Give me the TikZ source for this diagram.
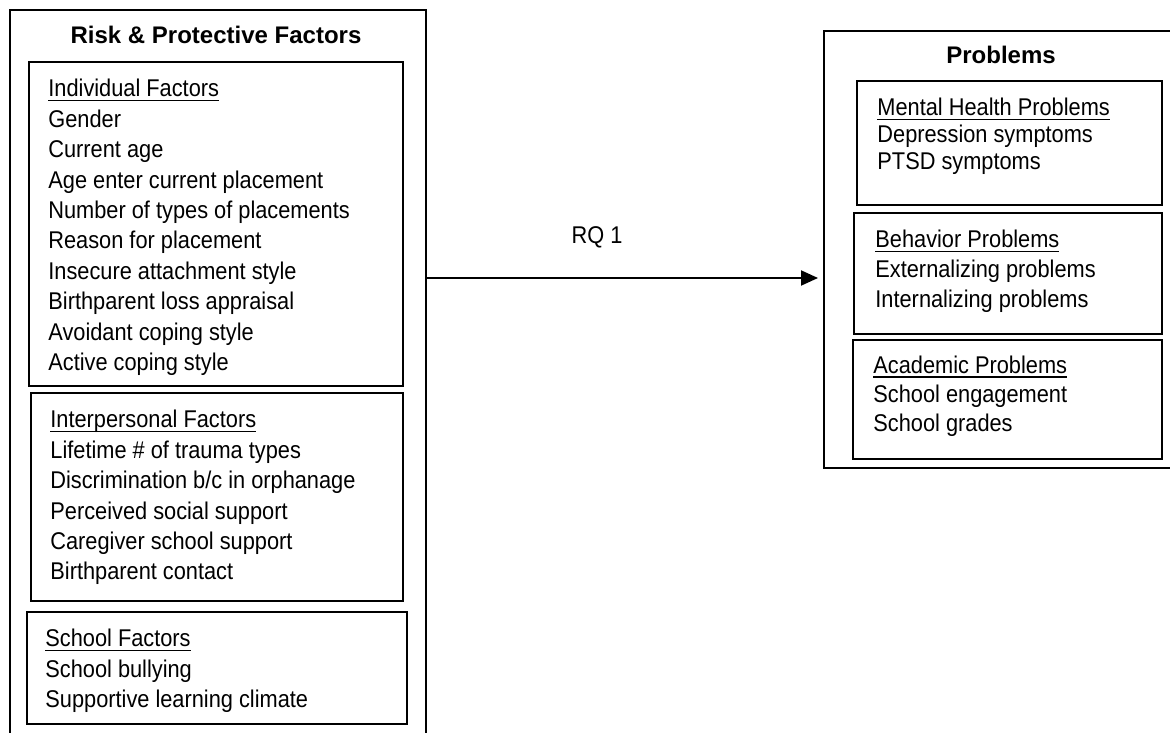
\documentclass[tikz,border=0pt]{standalone}
\usepackage{fontspec}
\setmainfont{Liberation Sans}
\newfontfamily{\bodyfont}{Liberation Sans}[FakeStretch=0.9]
\usetikzlibrary{arrows.meta}
\newsavebox{\headbox}
\newcommand{\grouphead}[1]{\sbox{\headbox}{#1}\rlap{\rule[-2.1pt]{\wd\headbox}{0.75pt}}\usebox{\headbox}}
\tikzset{outerbox/.style={draw, line width=0.9pt, anchor=north west, inner sep=0pt},
  groupbox/.style={draw, line width=0.9pt, anchor=north west, inner sep=0pt},
  boxtitle/.style={font=\fontsize{12}{14}\selectfont\bfseries, inner sep=0pt},
  items/.style={anchor=north west, inner sep=0pt, align=left, font=\bodyfont\fontsize{12.1}{#1}\selectfont},
  items/.default=15.2,
  flow/.style={-{Triangle[length=8.5pt,width=7.5pt]}, line width=1pt, shorten >=2.5pt}}

\begin{document}
\begin{tikzpicture}[x=0.5pt, y=-0.5pt]
   \useasboundingbox (0,0) rectangle (1170,732);
   \begin{scope}
    \node[outerbox, minimum width=208pt, minimum height=370pt] (riskbox) at (9,9) {};
    \node[boxtitle] (risktitle) at (216,35) {Risk \& Protective Factors};
    \node[groupbox, minimum width=187pt, minimum height=162pt] (indiv) at (28,61) {};
    \node[items] (indivlist) at ([shift={(20,18)}]indiv.north west)
      {\grouphead{Individual Factors}\\Gender\\Current age\\Age enter current placement\\
       Number of types of placements\\Reason for placement\\Insecure attachment style\\
       Birthparent loss appraisal\\Avoidant coping style\\Active coping style};
    \node[groupbox, minimum width=186pt, minimum height=104pt] (inter) at (30,392) {};
    \node[items] (interlist) at ([shift={(20,18)}]inter.north west)
      {\grouphead{Interpersonal Factors}\\Lifetime \# of trauma types\\Discrimination b/c in orphanage\\
       Perceived social support\\Caregiver school support\\Birthparent contact};
    \node[groupbox, minimum width=190pt, minimum height=56pt] (school) at (26,611) {};
    \node[items] (schoollist) at ([shift={(19,18)}]school.north west)
      {\grouphead{School Factors}\\School bullying\\Supportive learning climate};
   \end{scope}
   \begin{scope}
    \node[outerbox, minimum width=180pt, minimum height=218.5pt] (probbox) at (823,30) {};
    \node[boxtitle] (probtitle) at (1001,55) {Problems};
    \node[groupbox, minimum width=152.5pt, minimum height=62pt] (mental) at (856,80) {};
    \node[items=13.5] (mentallist) at ([shift={(21,18)}]mental.north west)
      {\grouphead{Mental Health Problems}\\Depression symptoms\\PTSD symptoms};
    \node[groupbox, minimum width=154pt, minimum height=60.5pt] (behav) at (853,212) {};
    \node[items=14.8] (behavlist) at ([shift={(22,18)}]behav.north west)
      {\grouphead{Behavior Problems}\\Externalizing problems\\Internalizing problems};
    \node[groupbox, minimum width=154.5pt, minimum height=59.5pt] (acad) at (852,339) {};
    \node[items=14.5] (acadlist) at ([shift={(21,16.5)}]acad.north west)
      {\grouphead{Academic Problems}\\School engagement\\School grades};
   \end{scope}
   \coordinate (rqline) at (0,278);
   \node[font=\bodyfont\fontsize{12.1}{14}\selectfont, inner sep=0pt] (rqlabel) at (597,237) {RQ 1};
   \draw[flow] (riskbox.east |- rqline) -- (probbox.west |- rqline);
\end{tikzpicture}
\end{document}
